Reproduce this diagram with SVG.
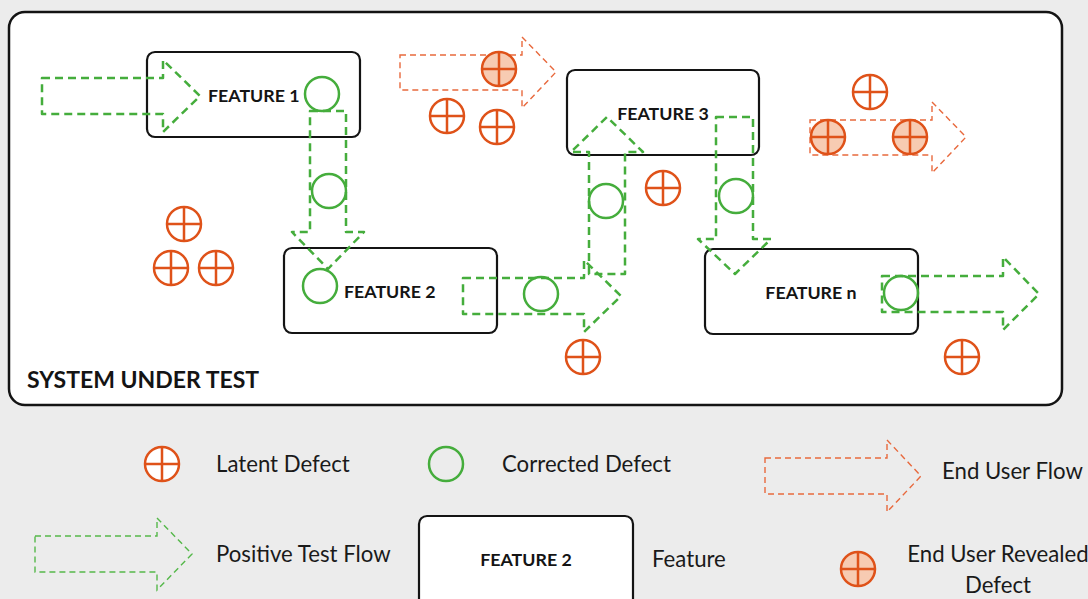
<svg xmlns="http://www.w3.org/2000/svg" width="1088" height="599" viewBox="0 0 1088 599">
  <defs>
    <style>
      .frame { fill: #ffffff; stroke: #141414; stroke-width: 2.5; }
      .box { fill: #ffffff; stroke: #141414; stroke-width: 2.2; }
      .label { font-family: Lato, "Liberation Sans", sans-serif; font-weight: 700; fill: #141414; font-size: 17.8px; }
      .title { font-size: 23px; }
      .legend { font-family: Lato, "Liberation Sans", sans-serif; font-weight: 400; fill: #1a1a1a; font-size: 22.2px; }
      .test { fill: none; stroke: #45ad3c; stroke-width: 2.5; stroke-dasharray: 8 5; stroke-linejoin: round; }
      .test-thin { fill: none; stroke: #55b84a; stroke-width: 1.4; stroke-dasharray: 6 4; }
      .user { fill: none; stroke: #e8693d; stroke-width: 1.4; stroke-dasharray: 6 4; }
      .fixed { fill: none; stroke: #45ad3c; stroke-width: 2.5; }
      .latent { fill: #ffffff; stroke: #df5219; stroke-width: 2.5; }
      .revealed { fill: #f7cbb2; stroke: #df5219; stroke-width: 2.5; }
      .cross { stroke: #df5219; stroke-width: 2.5; }
    </style>
    <!-- defect symbols, drawn around the origin -->
    <g id="latent">
      <circle class="latent" r="17"/>
      <path class="cross" d="M-17 0H17M0 -17V17"/>
    </g>
    <g id="revealed">
      <circle class="revealed" r="17"/>
      <path class="cross" d="M-17 0H17M0 -17V17"/>
    </g>
  </defs>

  <rect width="1088" height="599" fill="#ececec"/>

  <!-- system boundary -->
  <g id="system">
    <rect class="frame" x="9" y="12" width="1053" height="393" rx="16"/>
    <text class="label title" x="27" y="388">SYSTEM UNDER TEST</text>
  </g>

  <!-- features -->
  <g id="feature1">
    <rect class="box" x="147" y="52" width="213" height="85" rx="8"/>
    <text class="label" x="208" y="102">FEATURE 1</text>
  </g>
  <g id="feature2">
    <rect class="box" x="284" y="248" width="213" height="85" rx="8"/>
    <text class="label" x="344" y="298">FEATURE 2</text>
  </g>
  <g id="feature3">
    <rect class="box" x="567" y="70" width="192" height="85" rx="8"/>
    <text class="label" x="663" y="120" text-anchor="middle">FEATURE 3</text>
  </g>
  <g id="featureN">
    <rect class="box" x="705" y="249" width="213" height="85" rx="8"/>
    <text class="label" x="811" y="299" text-anchor="middle">FEATURE n</text>
  </g>

  <!-- flows -->
  <g id="connectors">
    <path class="test" d="M42 78H163V60L200 96L163 132V114H42Z"/>
    <path class="test" d="M310 111H346V232H364L328 269L292 232H310Z"/>
    <path class="test" d="M463 278H584V260L621 296L584 332V314H463Z"/>
    <path class="test" d="M589 274V152H571L607 117L643 152H625V274Z"/>
    <path class="test" d="M716 117H753V239H771L735 274L698 239H716Z"/>
    <path class="test" d="M882 276H1003V257L1039 294L1003 330V312H882Z"/>
    <path class="user" d="M400 55H522V37L556 72L522 108V90H400Z"/>
    <path class="user" d="M810 120H932V102L966 137L932 173V155H810Z"/>
  </g>

  <!-- corrected defects -->
  <g id="corrected">
    <circle class="fixed" cx="322" cy="94" r="17"/>
    <circle class="fixed" cx="329" cy="191" r="17"/>
    <circle class="fixed" cx="320" cy="286" r="17"/>
    <circle class="fixed" cx="541" cy="294" r="17"/>
    <circle class="fixed" cx="606" cy="201" r="17"/>
    <circle class="fixed" cx="736" cy="196" r="17"/>
    <circle class="fixed" cx="901" cy="293" r="17"/>
  </g>

  <!-- latent defects -->
  <g id="latent-defects">
    <use href="#latent" x="184" y="224"/>
    <use href="#latent" x="171" y="268"/>
    <use href="#latent" x="216" y="268"/>
    <use href="#latent" x="447" y="116"/>
    <use href="#latent" x="497" y="127"/>
    <use href="#latent" x="663" y="188"/>
    <use href="#latent" x="870" y="92"/>
    <use href="#latent" x="583" y="357"/>
    <use href="#latent" x="962" y="357"/>
  </g>

  <!-- defects revealed by end users -->
  <g id="revealed-defects">
    <use href="#revealed" x="499" y="69"/>
    <use href="#revealed" x="828" y="137"/>
    <use href="#revealed" x="910" y="137"/>
  </g>

  <!-- legend -->
  <g id="legend-latent">
    <use href="#latent" x="162" y="464"/>
    <text class="legend" x="216" y="472">Latent Defect</text>
  </g>
  <g id="legend-corrected">
    <circle class="fixed" cx="446" cy="464" r="17"/>
    <text class="legend" x="502" y="472">Corrected Defect</text>
  </g>
  <g id="legend-user-flow">
    <path class="user" d="M765 458H887V440L921 476L887 512V494H765Z"/>
    <text class="legend" x="942" y="479">End User Flow</text>
  </g>
  <g id="legend-test-flow">
    <path class="test-thin" d="M35 536H157V518L192 554L157 590V572H35Z"/>
    <text class="legend" x="216" y="562">Positive Test Flow</text>
  </g>
  <g id="legend-feature">
    <rect class="box" x="419" y="516" width="214" height="100" rx="8"/>
    <text class="label" x="526" y="566" text-anchor="middle">FEATURE 2</text>
    <text class="legend" x="652" y="567">Feature</text>
  </g>
  <g id="legend-revealed">
    <use href="#revealed" x="858" y="569"/>
    <text class="legend" x="998" y="562" text-anchor="middle">End User Revealed</text>
    <text class="legend" x="998" y="593" text-anchor="middle">Defect</text>
  </g>
</svg>
